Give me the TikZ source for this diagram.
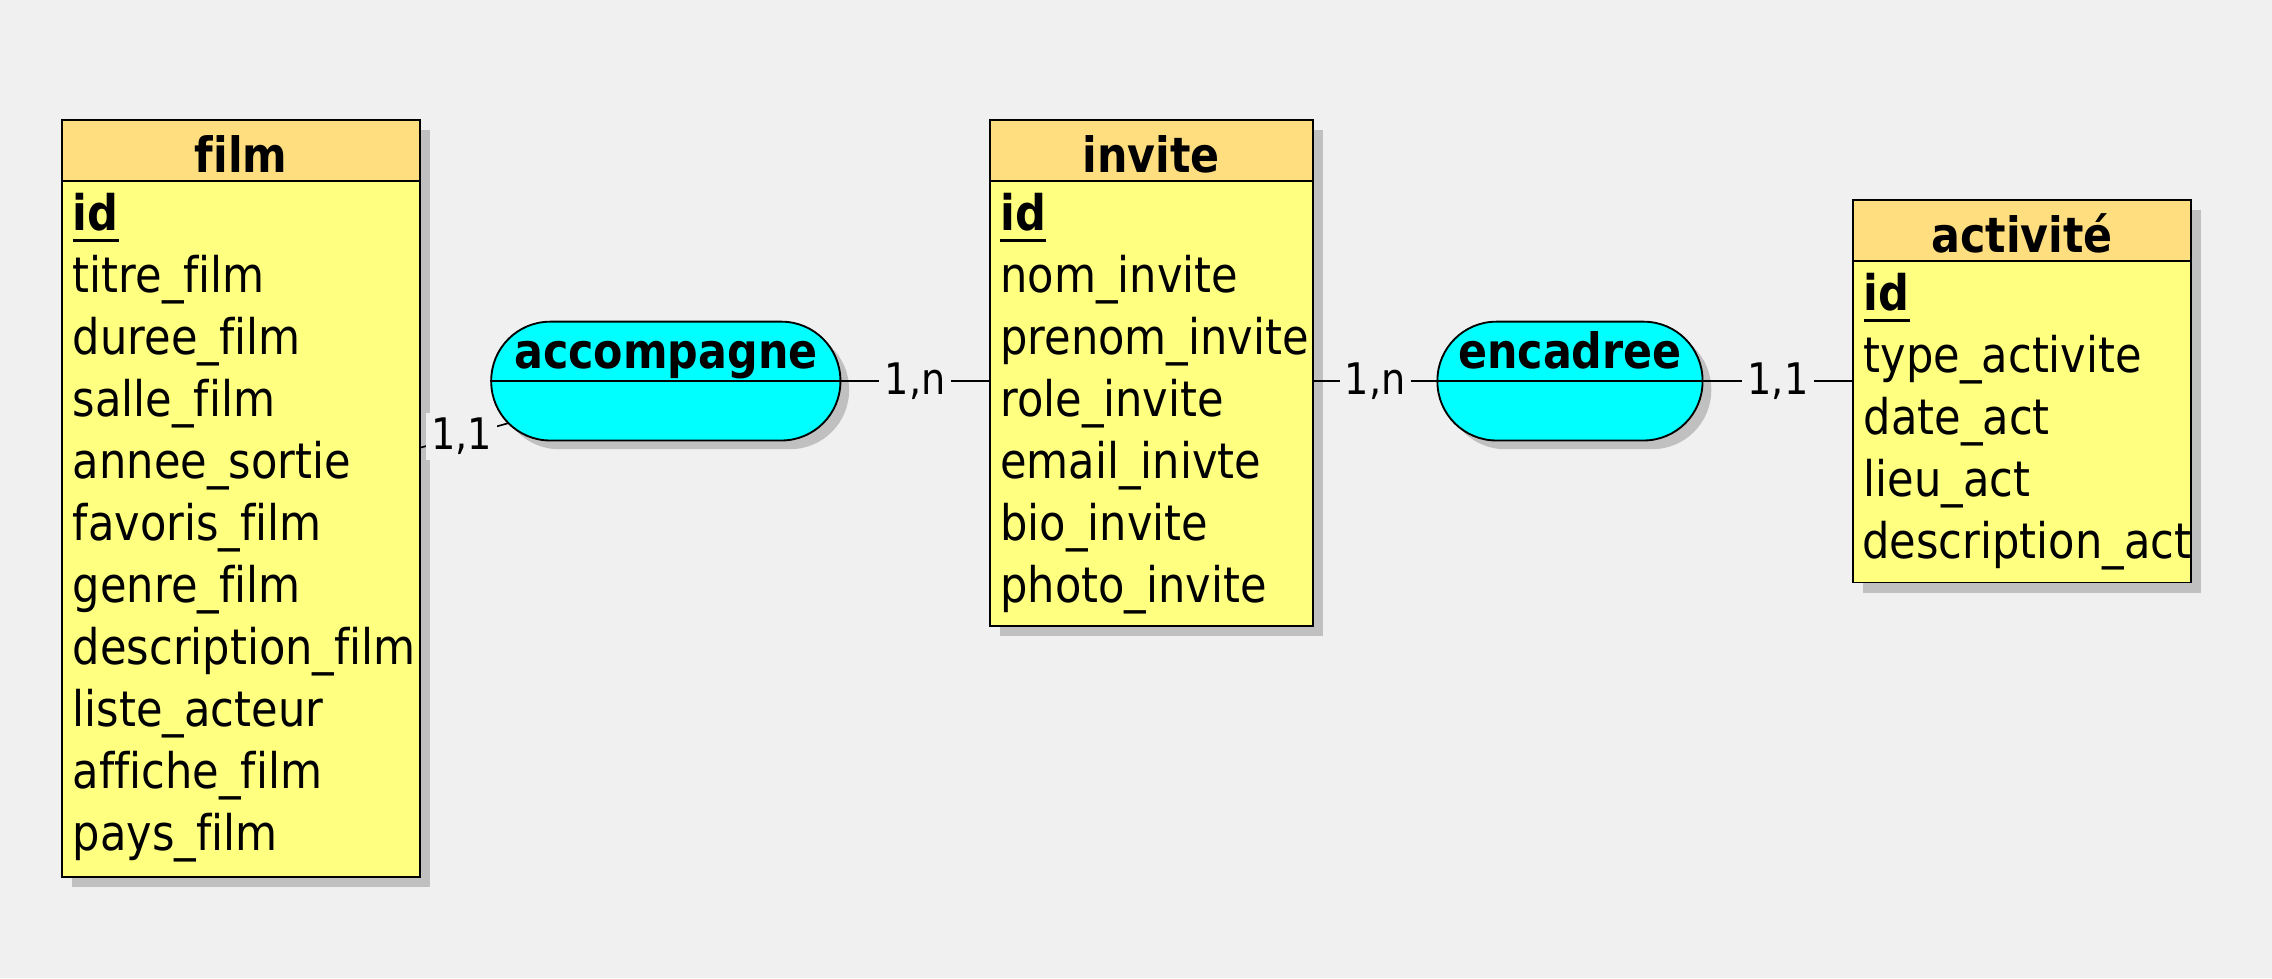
\documentclass[tikz,border=0pt]{standalone}
\usepackage{fontspec}
\setmainfont{DejaVu Sans}[FakeStretch=0.88,Ligatures={NoCommon}]
\usetikzlibrary{fit,calc}
\definecolor{bgc}{RGB}{240,240,240}
\definecolor{hdrc}{RGB}{255,222,128}
\definecolor{bodyc}{RGB}{255,255,128}
\definecolor{relc}{RGB}{0,255,255}
\definecolor{shadc}{RGB}{192,192,192}
\newcommand\pkul[1]{\setbox0\hbox{#1}\rlap{\rule[-5.6pt]{\wd0}{1.3pt}}\box0}
\begin{document}
\begin{tikzpicture}[x=0.7pt,y=-0.7pt,
  box/.style={draw=black,line width=0.9pt,inner sep=0pt,fill=bodyc},
  hdr/.style={draw=black,line width=0.9pt,inner sep=0pt,fill=hdrc},
  rel/.style={draw=black,line width=0.9pt,inner sep=0pt,fill=relc,rounded corners=28.5pt},
  ttl/.style={anchor=base,inner sep=0pt,font=\fontsize{23.5}{28}\selectfont\bfseries},
  attr/.style={anchor=base west,inner sep=0pt,font=\fontsize{23.7}{28}\selectfont},
  pk/.style={attr,font=\fontsize{23.7}{28}\selectfont\bfseries},
  card/.style={fill=bgc,inner sep=2.5pt,font=\fontsize{21}{25}\selectfont},
  link/.style={draw=black,line width=0.8pt},
  shd/.style={fill=shadc}]
\fill[bgc] (0,0) rectangle (1568,675);
\useasboundingbox (0,0) rectangle (1568,675);

% shadows
\fill[shd] (50,90) rectangle (297,612);
\fill[shd] (690,90) rectangle (913,439);
\fill[shd] (1286,145) rectangle (1519,409);
\fill[shd,rounded corners=28.5pt] (345,228) rectangle (586,310);
\fill[shd,rounded corners=28.5pt] (998,228) rectangle (1181,310);

% film
\node[box,fit={(43,83)(290,605)}] (film) {};
\node[hdr,fit={(43,83)(290,125)}] (filmh) {};
\node[ttl] (filmt) at ($(filmh.south)+(0,-6.5)$) {film};
\node[pk] (f0) at (50,159) {\pkul{id}};
\node[attr] (f1) at (50,201.8) {titre\_film};
\node[attr] (f2) at (50,244.6) {duree\_film};
\node[attr] (f3) at (50,287.4) {salle\_film};
\node[attr] (f4) at (50,330.2) {annee\_sortie};
\node[attr] (f5) at (50,373) {favoris\_film};
\node[attr] (f6) at (50,415.8) {genre\_film};
\node[attr] (f7) at (50,458.6) {description\_film};
\node[attr] (f8) at (50,501.4) {liste\_acteur};
\node[attr] (f9) at (50,544.2) {affiche\_film};
\node[attr] (f10) at (50,587) {pays\_film};

% invite
\node[box,fit={(683,83)(906,432)}] (inv) {};
\node[hdr,fit={(683,83)(906,125)}] (invh) {};
\node[ttl] (invt) at ($(invh.south)+(0,-6.5)$) {invite};
\node[pk] (i0) at (690,159) {\pkul{id}};
\node[attr] (i1) at (690,201.8) {nom\_invite};
\node[attr] (i2) at (690,244.6) {prenom\_invite};
\node[attr] (i3) at (690,287.4) {role\_invite};
\node[attr] (i4) at (690,330.2) {email\_inivte};
\node[attr] (i5) at (690,373) {bio\_invite};
\node[attr] (i6) at (690,415.8) {photo\_invite};

% activite
\node[box,fit={(1279,138)(1512,402)}] (act) {};
\node[hdr,fit={(1279,138)(1512,180)}] (acth) {};
\node[ttl] (actt) at ($(acth.south)+(0,-6.5)$) {activité};
\node[pk] (a0) at (1286,214) {\pkul{id}};
\node[attr] (a1) at (1286,256.8) {type\_activite};
\node[attr] (a2) at (1286,299.6) {date\_act};
\node[attr] (a3) at (1286,342.4) {lieu\_act};
\node[attr] (a4) at (1285,385.2) {description\_act};

% relations
\node[rel,fit={(339,222)(580,304)}] (acc) {};
\draw[line width=0.9pt] (acc.west) -- (acc.east);
\node[ttl] (acct) at ($(acc.center)+(0,-9)$) {accompagne};
\node[rel,fit={(992,222)(1175,304)}] (enc) {};
\draw[line width=0.9pt] (enc.west) -- (enc.east);
\node[ttl] (enct) at ($(enc.center)+(0,-9)$) {encadree};

% connectors
\coordinate (filmR) at (290,309);
\coordinate (accA) at (351,292);
\draw[link] (filmR) -- node[card,pos=0.47] (c1) {1,1} (accA);
\draw[link] (acc.east) -- node[card] (c2) {1,n} (acc.east -| inv.west);
\draw[link] (enc.west -| inv.east) -- node[card] (c3) {1,n} (enc.west);
\draw[link] (enc.east) -- node[card] (c4) {1,1} (enc.east -| act.west);
\end{tikzpicture}
\end{document}
